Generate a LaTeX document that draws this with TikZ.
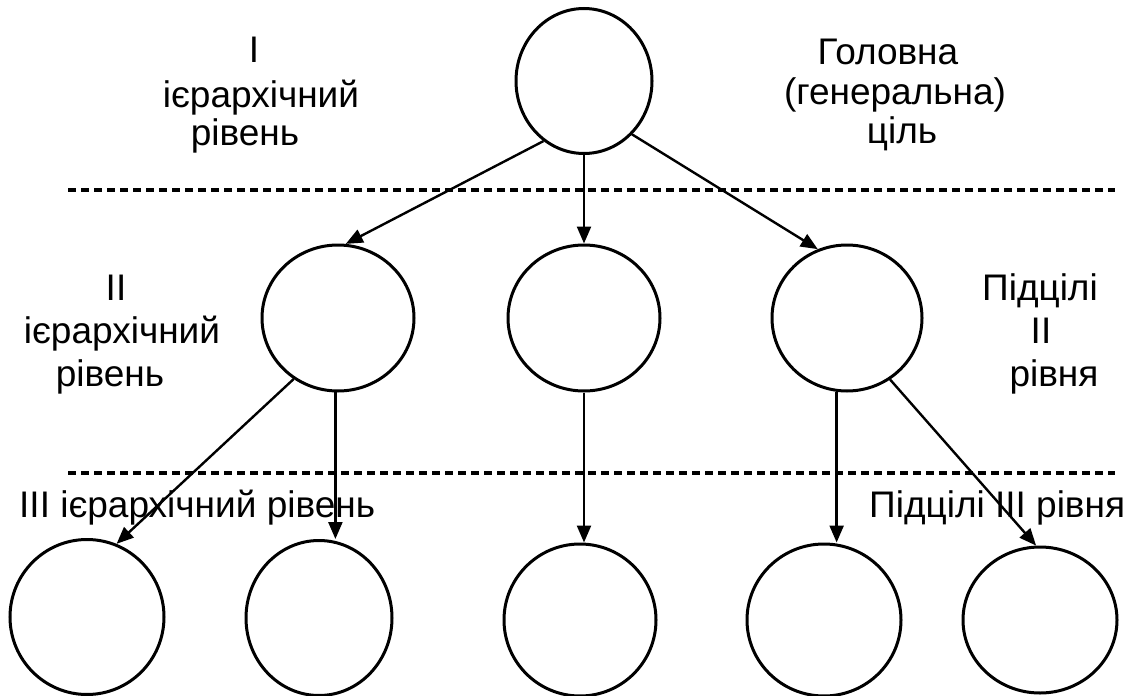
\documentclass[tikz,border=0pt]{standalone}
\usepackage{fontspec}
\setmainfont{Liberation Sans}
\usetikzlibrary{arrows.meta,shapes.geometric}
\tikzset{
  goal/.style={draw, ellipse, line width=3pt, inner sep=0pt},
  arr/.style={line width=2.4pt, -{Triangle[length=17pt,width=14pt]}},
  sep/.style={line width=3.6pt, dash pattern=on 8pt off 5pt},
  lbl/.style={anchor=base, inner sep=0pt, font=\fontsize{37}{40}\selectfont},
}
\begin{document}
\begin{tikzpicture}[x=1pt,y=1pt]
\useasboundingbox[fill=white] (0,0) rectangle (1128,-696);

% separators
\coordinate (d1a) at (68,-190);
\coordinate (d1b) at (1115,-190);
\coordinate (d2a) at (68,-473);
\coordinate (d2b) at (1115,-473);
\draw[sep] (d1a) -- (d1b);
\draw[sep] (d2a) -- (d2b);

% goals
\node[goal, minimum width=136pt, minimum height=145pt] (T) at (584,-81) {};
\node[goal, minimum width=152pt, minimum height=146pt] (A) at (338,-318) {};
\node[goal, minimum width=152pt, minimum height=146pt] (B) at (584,-318) {};
\node[goal, minimum width=150pt, minimum height=146pt] (C) at (847,-318) {};
\node[goal, minimum width=154pt, minimum height=155pt] (B1) at (87,-617) {};
\node[goal, minimum width=146pt, minimum height=155pt] (B2) at (319,-618) {};
\node[goal, minimum width=152pt, minimum height=152pt] (B3) at (580,-620) {};
\node[goal, minimum width=154pt, minimum height=152pt] (B4) at (824,-620) {};
\node[goal, minimum width=154pt, minimum height=146pt] (B5) at (1040,-620) {};

% connectors
\draw[arr] (T.236) -- (A.84);
\draw[arr] (T.south) -- (T.south |- B.north);
\draw[arr] (T.312) -- (C.113);
\draw[arr] (A.234) -- (B1.68);
\draw[arr] (A.268) -- (A.268 |- B2.north);
\draw[arr] (B.south) -- (B.south |- B3.north);
\draw[arr] (C.262) -- (C.262 |- B4.north);
\draw[arr] (C.305) -- (B5.93);

% labels level I
\node[lbl] (l1a) at (254,-62) {I};
\node[lbl] (l1b) at (261,-107) {ієрархічний};
\node[lbl] (l1c) at (245,-145) {рівень};
\node[lbl] (r1a) at (888,-64) {Головна};
\node[lbl] (r1b) at (895,-104) {(генеральна)};
\node[lbl] (r1c) at (902,-143) {ціль};

% labels level II
\node[lbl] (l2a) at (116,-300) {II};
\node[lbl] (l2b) at (122,-343) {ієрархічний};
\node[lbl] (l2c) at (110,-386) {рівень};
\node[lbl] (r2a) at (1040,-300) {Підцілі};
\node[lbl] (r2b) at (1041,-343) {II};
\node[lbl] (r2c) at (1054,-386) {рівня};

% labels level III
\node[lbl, anchor=base west] (l3) at (19,-517) {III ієрархічний рівень};
\node[lbl, anchor=base west] (r3) at (869,-517) {Підцілі III рівня};
\end{tikzpicture}
\end{document}
